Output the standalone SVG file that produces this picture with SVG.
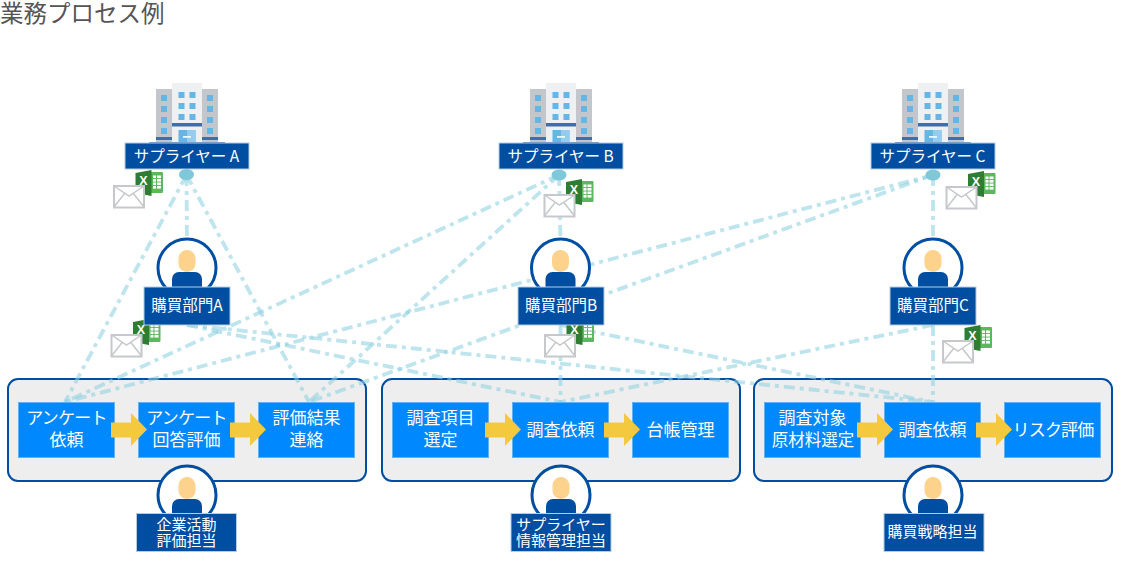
<svg xmlns="http://www.w3.org/2000/svg" width="1123" height="585" viewBox="0 0 1123 585">
<style>
text{font-family:"Noto Sans CJK JP","Noto Sans",sans-serif;text-anchor:middle;fill:#fff}
.title{font-size:23.5px;fill:#555;text-anchor:start}
.lbl{fill:#004ea2;stroke:#b5cbe3;stroke-width:1}
.box{fill:#0088ff;stroke:#5fb0f5;stroke-width:1}
.t14{font-size:15px}
.t15{font-size:15.5px}
.t17{font-size:17px}
.kana{letter-spacing:-.8px}
.cont{fill:#eee;stroke:#004ea2;stroke-width:2}
.arr{fill:#f5c93e}
#connectors line{stroke:#8fd0e0;stroke-opacity:.58;stroke-width:3.8;stroke-dasharray:11 5 4 5}
.dot{fill:#7fc8da}
</style>
<defs>
<g id="building">
<rect x="-31" y="89" width="16" height="53" fill="#c3c6ca"/>
<rect x="15" y="89" width="16" height="53" fill="#c3c6ca"/>
<rect x="-15" y="83" width="30" height="59" fill="#eff0f1"/>
<g fill="#65b6e6">
<rect x="-26" y="95" width="6" height="6"/><rect x="-26" y="106" width="6" height="6"/><rect x="-26" y="117" width="6" height="6"/><rect x="-26" y="128" width="6" height="6"/>
<rect x="20" y="95" width="6" height="6"/><rect x="20" y="106" width="6" height="6"/><rect x="20" y="117" width="6" height="6"/><rect x="20" y="128" width="6" height="6"/>
<rect x="-8.500" y="92" width="6" height="6"/><rect x="2.500" y="92" width="6" height="6"/>
<rect x="-8.500" y="103" width="6" height="6"/><rect x="2.500" y="103" width="6" height="6"/>
<rect x="-8.500" y="114" width="6" height="6"/><rect x="2.500" y="114" width="6" height="6"/>
</g>
<rect x="-15" y="123" width="30" height="3.500" fill="#3a6fb0"/>
<rect x="-31" y="137" width="16" height="3" fill="#3a6fb0"/>
<rect x="15" y="137" width="16" height="3" fill="#3a6fb0"/>
<rect x="-8.500" y="130" width="17" height="12" fill="#65b6e6"/>
<rect x="0" y="130" width="8.500" height="12" fill="#93ccef"/>
<rect x="-4" y="136" width="8" height="1.800" fill="#eef6fc"/>
<rect x="-38" y="142" width="76" height="1.500" fill="#3a6fb0"/>
</g>
<g id="person">
<circle cx="0" cy="0" r="29" fill="#fff" stroke="#004ea2" stroke-width="3"/>
<rect x="-8.500" y="-18" width="17" height="22" rx="8.500" fill="#fdd28c"/>
<path d="M-15 19V11a7 7 0 0 1 7-7H8a7 7 0 0 1 7 7V19Z" fill="#004ea2"/>
</g>
<g id="mailxls">
<rect x="33" y="-13" width="17" height="21" rx="1" fill="#5cb85f"/>
<g fill="#fff"><rect x="40" y="-9.500" width="3" height="2.600"/><rect x="44" y="-9.500" width="4" height="2.600"/><rect x="40" y="-6" width="3" height="2.600"/><rect x="44" y="-6" width="4" height="2.600"/><rect x="40" y="-2.500" width="3" height="2.600"/><rect x="44" y="-2.500" width="4" height="2.600"/><rect x="40" y="1" width="3" height="2.600"/><rect x="44" y="1" width="4" height="2.600"/></g>
<path d="M22.500 -12L38.500 -15V11L22.500 8Z" fill="#2e7d32"/>
<text x="30.500" y="0" style="font-family:'Liberation Sans',sans-serif;font-weight:700;font-size:12.500px">X</text>
<rect x="1" y="1" width="30" height="21.500" fill="#fff" stroke="#c6c8cb" stroke-width="2"/>
<path d="M1 1L16 11L31 1M1 22L12 8M31 22L20 8" fill="none" stroke="#c6c8cb" stroke-width="1.500"/>
</g>
<path id="arrow" d="M0 9.500H20V0L36 16.500L20 33V24.500H0Z"/>
</defs>

<text class="title" x="0" y="22">業務プロセス例</text>

<g id="process-group-a"><rect class="cont" x="8" y="379" width="358" height="102" rx="10"/></g>
<g id="process-group-b"><rect class="cont" x="382" y="379" width="358" height="102" rx="10"/></g>
<g id="process-group-c"><rect class="cont" x="754" y="379" width="358" height="102" rx="10"/></g>

<g id="connectors">
<line x1="186.500" y1="175" x2="187" y2="240"/>
<line x1="186.500" y1="175" x2="65" y2="402"/>
<line x1="186.500" y1="175" x2="309" y2="402"/>
<line x1="559" y1="175" x2="560.500" y2="240"/>
<line x1="559" y1="175" x2="65" y2="402"/>
<line x1="559" y1="175" x2="309" y2="402"/>
<line x1="933" y1="175" x2="933" y2="240"/>
<line x1="933" y1="175" x2="65" y2="402"/>
<line x1="933" y1="175" x2="309" y2="402"/>
<line x1="187" y1="325" x2="560.500" y2="402"/>
<line x1="187" y1="325" x2="932" y2="402"/>
<line x1="560.500" y1="325" x2="560.500" y2="402"/>
<line x1="560.500" y1="325" x2="932" y2="402"/>
<line x1="933" y1="325" x2="560.500" y2="402"/>
<line x1="933" y1="325" x2="933" y2="402"/>
</g>

<g id="supplier-a"><use href="#building" x="187"/><rect class="lbl" x="125" y="143" width="124" height="26"/><text class="t15" x="186.500" y="162">サプライヤー A</text><ellipse class="dot" cx="186.500" cy="174.500" rx="7.500" ry="5.500"/></g>
<g id="supplier-b"><use href="#building" x="561"/><rect class="lbl" x="499" y="143" width="124" height="26"/><text class="t15" x="560.500" y="162">サプライヤー B</text><ellipse class="dot" cx="559" cy="175" rx="7.500" ry="5.500"/></g>
<g id="supplier-c"><use href="#building" x="933"/><rect class="lbl" x="871" y="143" width="124" height="26"/><text class="t15" x="932.500" y="162">サプライヤー C</text><ellipse class="dot" cx="933" cy="175" rx="7.500" ry="5.500"/></g>

<g id="mail-a1"><use href="#mailxls" x="113" y="185"/></g>
<g id="mail-a2"><use href="#mailxls" x="110.500" y="334"/></g>
<g id="mail-b1"><use href="#mailxls" x="543.500" y="194"/></g>
<g id="mail-b2"><use href="#mailxls" x="544" y="334"/></g>
<g id="mail-c1"><use href="#mailxls" x="945.500" y="186"/></g>
<g id="mail-c2"><use href="#mailxls" x="942" y="340"/></g>

<g id="buyer-a"><use href="#person" x="187" y="268"/><rect class="lbl" x="144" y="287" width="86" height="38"/><text class="t15" x="187" y="311">購買部門A</text></g>
<g id="buyer-b"><use href="#person" x="560.500" y="268"/><rect class="lbl" x="518" y="287" width="86" height="38"/><text class="t15" x="561" y="311">購買部門B</text></g>
<g id="buyer-c"><use href="#person" x="933" y="268"/><rect class="lbl" x="890" y="287" width="86" height="38"/><text class="t15" x="933" y="311">購買部門C</text></g>

<g id="task-a1"><rect class="box" x="18.500" y="402.500" width="96" height="55"/><text class="t17"><tspan class="kana" x="66.500" y="424">アンケート</tspan><tspan x="66.500" y="446">依頼</tspan></text></g>
<g id="task-a2"><rect class="box" x="138.500" y="402.500" width="96" height="55"/><text class="t17"><tspan class="kana" x="186.500" y="424">アンケート</tspan><tspan x="186.500" y="446">回答評価</tspan></text></g>
<g id="task-a3"><rect class="box" x="258.500" y="402.500" width="96" height="55"/><text class="t17"><tspan x="306.500" y="424">評価結果</tspan><tspan x="306.500" y="446">連絡</tspan></text></g>
<g id="task-b1"><rect class="box" x="392.500" y="402.500" width="96" height="55"/><text class="t17"><tspan x="440.500" y="424">調査項目</tspan><tspan x="440.500" y="446">選定</tspan></text></g>
<g id="task-b2"><rect class="box" x="512.500" y="402.500" width="96" height="55"/><text class="t17" x="560.500" y="436">調査依頼</text></g>
<g id="task-b3"><rect class="box" x="632.500" y="402.500" width="96" height="55"/><text class="t17" x="680.500" y="436">台帳管理</text></g>
<g id="task-c1"><rect class="box" x="764.500" y="402.500" width="96" height="55"/><text class="t17"><tspan x="812.500" y="424">調査対象</tspan><tspan x="813" y="446" style="font-size:16.500px">原材料選定</tspan></text></g>
<g id="task-c2"><rect class="box" x="884.500" y="402.500" width="96" height="55"/><text class="t17" x="932.500" y="436">調査依頼</text></g>
<g id="task-c3"><rect class="box" x="1004.500" y="402.500" width="96" height="55"/><text class="t17 kana" x="1053" y="436">リスク評価</text></g>

<g id="arrows" class="arr">
<use href="#arrow" x="111" y="413"/><use href="#arrow" x="230" y="413"/>
<use href="#arrow" x="485" y="413"/><use href="#arrow" x="604" y="413"/>
<use href="#arrow" x="857" y="413"/><use href="#arrow" x="976" y="413"/>
</g>

<g id="owner-a"><use href="#person" x="187" y="495"/><rect class="lbl" x="136.500" y="513.500" width="100" height="38"/><text class="t14"><tspan x="186.500" y="530">企業活動</tspan><tspan x="186.500" y="546">評価担当</tspan></text></g>
<g id="owner-b"><use href="#person" x="561" y="495"/><rect class="lbl" x="511" y="513.500" width="100" height="38"/><text class="t14"><tspan x="561" y="530">サプライヤー</tspan><tspan x="561" y="546">情報管理担当</tspan></text></g>
<g id="owner-c"><use href="#person" x="933" y="495"/><rect class="lbl" x="884" y="513.500" width="100" height="38"/><text class="t14" x="932.500" y="537">購買戦略担当</text></g>
</svg>
